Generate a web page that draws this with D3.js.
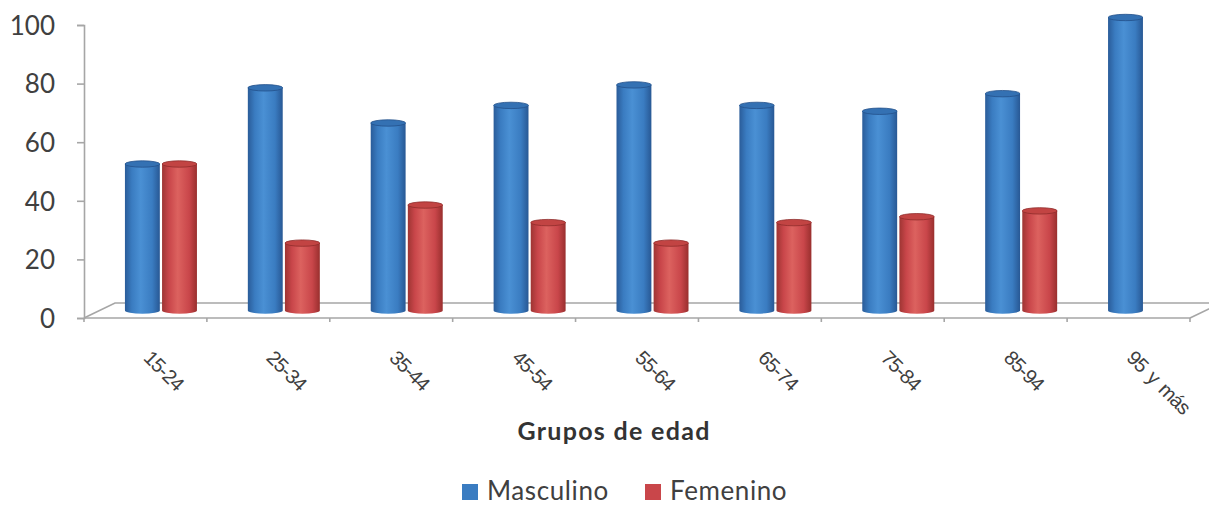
<!DOCTYPE html>
<html><head><meta charset="utf-8">
<script src="https://cdn.jsdelivr.net/npm/d3@7"></script>
<style>body{margin:0;background:#fff}svg{display:block}</style>
</head><body>
<svg id="chart" width="1209" height="506"></svg>
<script>
// Porcentaje por sexo en cada grupo de edad
const categories = ["15-24", "25-34", "35-44", "45-54", "55-64", "65-74", "75-84", "85-94", "95 y más"];
const masculino = [50, 76, 64, 70, 77, 70, 68, 74, 100];
const femenino = [50, 23, 36, 30, 23, 30, 32, 34, 0];
const seriesNames = ["Masculino", "Femenino"];
const yTicks = [0, 20, 40, 60, 80, 100];
const axisTitle = "Grupos de edad";

const svg = d3.select("#chart");
const textColor = "#404040";
const lineColor = "#a6a6a6";

const x0 = d3.scaleBand().domain(categories).range([84, 1190]);
const y = d3.scaleLinear().domain([0, 100]).range([318, 25]);
const x1 = d3.scaleBand().domain(seriesNames).range([-36, 36]).paddingInner(0.06);
// floor depth of the 3D plot (back edge offset)
const depth = { dx: 31, dy: -15 };

const palette = {
  Masculino: { stops: ["#2a5c99", "#3a7cc1", "#4a90d4", "#3a7cc1", "#285894"], top: "#3471b3", rim: "#23508a" },
  Femenino: { stops: ["#9e3533", "#c9464a", "#dc625f", "#c9464a", "#992f2e"], top: "#c24443", rim: "#8f2c2b" }
};

const defs = svg.append("defs");
seriesNames.forEach(s => {
  const g = defs.append("linearGradient").attr("id", "grad-" + s)
    .attr("x1", "0%").attr("x2", "100%").attr("y1", "0%").attr("y2", "0%");
  const offs = [0, 0.2, 0.45, 0.78, 1];
  palette[s].stops.forEach((c, i) => g.append("stop").attr("offset", offs[i]).attr("stop-color", c));
});

// floor of the plot
const y0 = y(0);
const floor = svg.append("g").attr("fill", "none").attr("stroke", lineColor).attr("stroke-width", 1.6);
const xl = x0.range()[0], xr = x0.range()[1];
floor.append("path").attr("d", `M${xl},${y0}L${xl + depth.dx},${y0 + depth.dy}L${xr + depth.dx},${y0 + depth.dy}L${xr},${y0}`);
floor.append("path").attr("d", `M${xl},${y0}L${xr},${y0}`);

// category tick marks on the front edge
floor.selectAll("line.tk").data(categories.concat([null])).join("line")
  .attr("x1", (d, i) => xl + i * x0.step()).attr("x2", (d, i) => xl + i * x0.step())
  .attr("y1", y0).attr("y2", y0 + 4);

// cylinders
const data = [];
categories.forEach((c, i) => {
  data.push({ cat: c, s: "Masculino", v: masculino[i] });
  data.push({ cat: c, s: "Femenino", v: femenino[i] });
});
const shiftX = depth.dx / 2, shiftY = depth.dy / 2;
const ry = 3.2;
const bars = svg.append("g");
data.filter(d => d.v > 0).forEach(d => {
  const bx = x0(d.cat) + x0.bandwidth() / 2 + shiftX + x1(d.s);
  const w = x1.bandwidth();
  const yb = y(0) + shiftY;
  const yt = y(d.v) + shiftY;
  const g = bars.append("g");
  g.append("path")
    .attr("d", `M${bx},${yt}L${bx},${yb}A${w / 2},${ry} 0 0 0 ${bx + w},${yb}L${bx + w},${yt}Z`)
    .attr("fill", `url(#grad-${d.s})`);
  g.append("ellipse")
    .attr("cx", bx + w / 2).attr("cy", yt).attr("rx", w / 2).attr("ry", ry)
    .attr("fill", palette[d.s].top).attr("stroke", palette[d.s].rim).attr("stroke-width", 0.8);
});

// value axis
const yAxis = d3.axisLeft(y).tickValues(yTicks).tickSize(7).tickPadding(22);
const ya = svg.append("g").attr("transform", `translate(${xl},0)`).call(yAxis);
ya.select(".domain").attr("stroke", lineColor).attr("stroke-width", 1.6);
ya.selectAll(".tick line").attr("stroke", lineColor).attr("stroke-width", 1.6);
ya.selectAll(".tick text")
  .attr("fill", textColor).attr("font-family", "Lato, sans-serif").attr("font-size", 26).attr("dy", "0.36em");

// category labels
svg.append("g").selectAll("text").data(categories).join("text")
  .attr("transform", d => `translate(${x0(d) + x0.bandwidth() / 2 - 3},359) rotate(45)`)
  .attr("font-family", "Liberation Sans, Arial, sans-serif").attr("font-size", 20)
  .attr("letter-spacing", -0.9).attr("word-spacing", 3)
  .attr("fill", textColor).text(d => d);

// axis title
svg.append("text").attr("x", 614).attr("y", 440).attr("text-anchor", "middle")
  .attr("font-family", "Lato, sans-serif").attr("font-weight", "bold").attr("font-size", 25)
  .attr("letter-spacing", 1.3)
  .attr("fill", "#333").text(axisTitle);

// legend
const legendPos = [462, 645];
const lg = svg.append("g");
seriesNames.forEach((s, i) => {
  lg.append("rect").attr("x", legendPos[i]).attr("y", 484).attr("width", 16).attr("height", 16)
    .attr("fill", palette[s].stops[1]);
  lg.append("text").attr("x", legendPos[i] + 25).attr("y", 500)
    .attr("font-family", "Lato, sans-serif").attr("font-size", 26).attr("letter-spacing", 0.6)
    .attr("fill", textColor).text(s);
});
</script>
</body></html>
